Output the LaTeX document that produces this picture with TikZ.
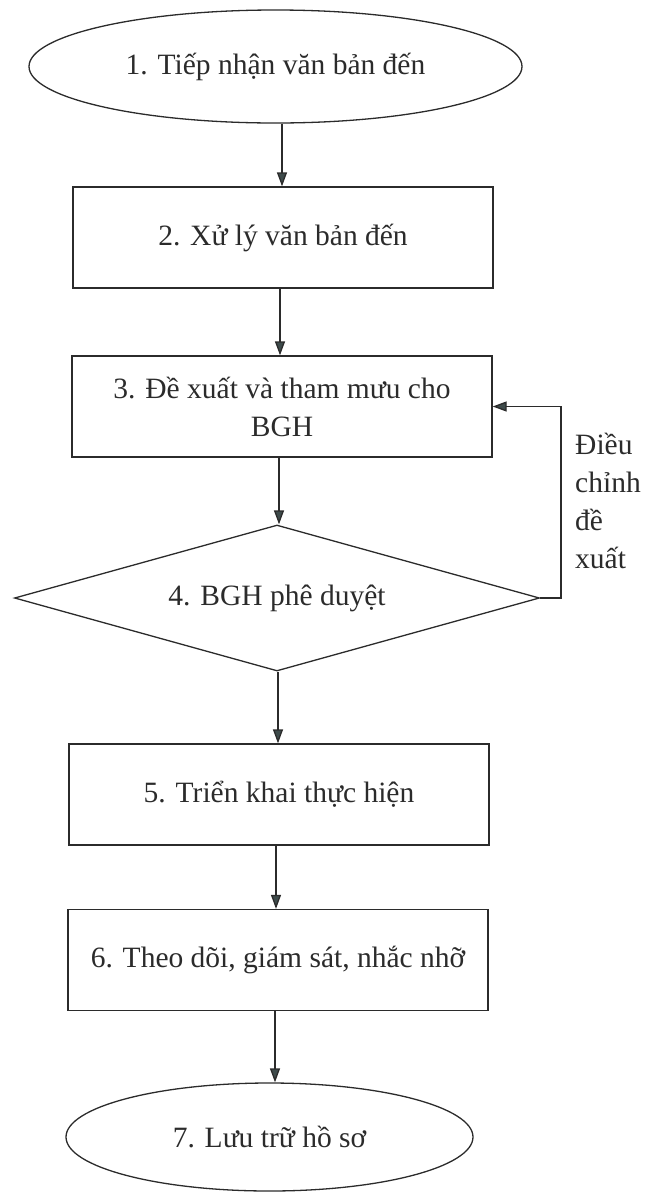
\documentclass[tikz,border=0pt]{standalone}
\usepackage{fontspec}
\setmainfont{Liberation Serif}
\usetikzlibrary{shapes.geometric,arrows.meta}
\definecolor{ink}{HTML}{2B2B2B}
\definecolor{tipc}{HTML}{3E4B4B}
\begin{document}
\begin{tikzpicture}[x=1pt,y=-1pt,
  every node/.style={font=\fontsize{29.5}{38}\selectfont, text=ink},
  stepbox/.style={draw=ink, line width=1.3pt, rectangle, minimum width=420pt, minimum height=101pt, inner sep=0pt, align=center},
  oval/.style={draw=ink, line width=1.3pt, ellipse, inner sep=0pt},
  decision/.style={draw=ink, line width=1.3pt, diamond, aspect=3.6, inner sep=0pt, minimum width=525pt, minimum height=146pt},
  arr/.style={draw=ink, line width=1.3pt, -{Triangle[length=14pt,width=10pt,fill=tipc]}},
  lbl/.style={font=\fontsize{29.5}{38}\selectfont, align=left, inner sep=0pt}]
\useasboundingbox (0,0) rectangle (648,1192);
\node[oval, minimum width=493pt, minimum height=113pt] (e1) at (275.5,66.5) {1. Tiếp nhận văn bản đến};
\node[stepbox] (b2) at (283,237.5) {2. Xử lý văn bản đến};
\node[stepbox] (b3) at (282,406.5) {3. Đề xuất và tham mưu cho\\BGH};
\node[decision] (d4) at (277,598) {4. BGH phê duyệt};
\node[stepbox] (b5) at (279,794.5) {5. Triển khai thực hiện};
\node[stepbox] (b6) at (278,960) {6. Theo dõi, giám sát, nhắc nhỡ};
\node[oval, minimum width=407pt, minimum height=108pt] (e7) at (269.5,1137) {7. Lưu trữ hồ sơ};
\node[lbl, anchor=north west] (lab) at (575,433) {Điều\\chỉnh\\đề\\xuất};
\coordinate (x1) at (282,0);
\coordinate (x2) at (280,0);
\coordinate (x3) at (279,0);
\coordinate (x4) at (278,0);
\coordinate (x5) at (276,0);
\coordinate (x6) at (275,0);
\coordinate (fb) at (561,598);
\draw[arr] (e1.south -| x1) -- (b2.north -| x1);
\draw[arr] (b2.south -| x2) -- (b3.north -| x2);
\draw[arr] (b3.south -| x3) -- (d4.north -| x3);
\draw[arr] (d4.south -| x4) -- (b5.north -| x4);
\draw[arr] (b5.south -| x5) -- (b6.north -| x5);
\draw[arr] (b6.south -| x6) -- (e7.north -| x6);
\draw[arr] (d4.east) -- (fb) |- (b3.east);
\end{tikzpicture}
\end{document}
